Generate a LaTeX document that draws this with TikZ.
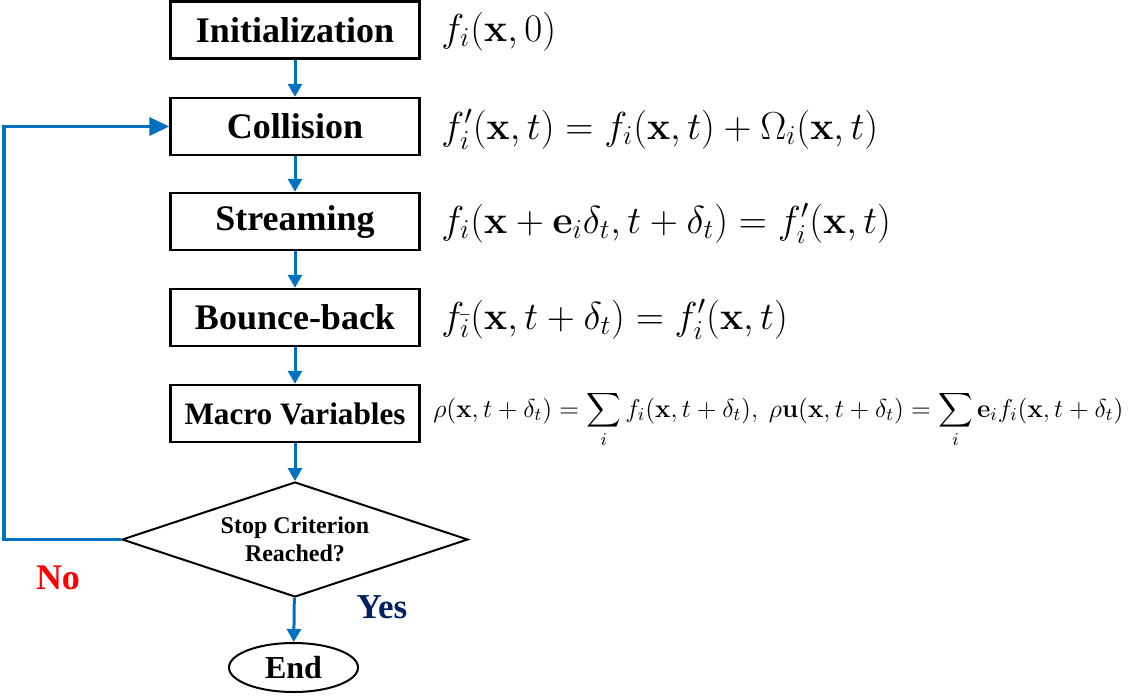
\RequirePackage{fix-cm}
\documentclass[tikz,border=0pt]{standalone}
\usepackage{amsmath}
\usepackage[no-math]{fontspec}
\setmainfont{Liberation Serif}
\usetikzlibrary{shapes.geometric,arrows.meta}
\definecolor{flowblue}{RGB}{0,112,192}
\definecolor{yesnavy}{RGB}{0,32,96}
\definecolor{nored}{RGB}{255,0,0}
\begin{document}
\begin{tikzpicture}[x=0.5pt,y=-0.5pt,
  stepbox/.style={draw,line width=1.2pt,minimum width=124.5pt,minimum height=28.5pt,inner sep=0pt,font=\bfseries\fontsize{18}{20}\selectfont},
  flow/.style={flowblue,line width=1.5pt,-{Triangle[length=6.5pt,width=7pt]}},
  loopflow/.style={flowblue,line width=1.75pt,-{Triangle[length=10pt,width=9pt]}},
  eq/.style={anchor=base west,inner sep=0pt,font=\fontsize{19.5}{22}\selectfont},
  eqsmall/.style={anchor=base west,inner sep=0pt,font=\fontsize{12.95}{15}\selectfont}]
\useasboundingbox (0,0) rectangle (1130,696);

\node[stepbox] (init) at (295,30) {Initialization};
\node[stepbox] (coll) at (295,126.5) {Collision};
\node[stepbox] (stream) at (295,221.5) {Streaming};
\node[stepbox] (bounce) at (295,317.5) {Bounce-back};
\node[stepbox,font=\bfseries\fontsize{15.6}{18}\selectfont] (macro) at (295,413.5) {Macro Variables};
\node[draw,shape=diamond,shape aspect=3,line width=1pt,minimum width=173pt,minimum height=57.5pt,inner sep=0pt,align=center,font=\bfseries\fontsize{12}{14}\selectfont] (dia) at (295,539.5) {Stop Criterion\\Reached?};
\node[draw,ellipse,line width=1pt,minimum width=64.5pt,minimum height=24.5pt,inner sep=0pt,font=\bfseries\fontsize{16}{18}\selectfont] (end) at (293.5,667.5) {End};

\node[eq] (e1) at (441,41) {$f_i(\mathbf{x},0)$};
\node[eq] (e2) at (441,139) {$f_i'(\mathbf{x},t)=f_i(\mathbf{x},t)+\Omega_i(\mathbf{x},t)$};
\node[eq] (e3) at (441,233) {$f_i(\mathbf{x}+\mathbf{e}_i\delta_t,t+\delta_t)=f_i'(\mathbf{x},t)$};
\node[eq] (e4) at (441,329) {$f_{\bar{i}}(\mathbf{x},t+\delta_t)=f_i'(\mathbf{x},t)$};
\node[eqsmall] (e5) at (433,417) {$\rho(\mathbf{x},t+\delta_t)=\displaystyle\sum_i f_i(\mathbf{x},t+\delta_t),\ \rho\mathbf{u}(\mathbf{x},t+\delta_t)=\sum_i\mathbf{e}_i f_i(\mathbf{x},t+\delta_t)$};

\node[text=nored,font=\bfseries\fontsize{18}{20}\selectfont] (no) at (58,578) {No};
\node[text=yesnavy,font=\bfseries\fontsize{17.5}{20}\selectfont] (yes) at (382,607) {Yes};

\draw[flow] (init) -- (coll);
\draw[flow] (coll) -- (stream);
\draw[flow] (stream) -- (bounce);
\draw[flow] (bounce) -- (macro);
\draw[flow] (macro) -- (dia);
\draw[flow] (dia) -- (end);
\coordinate (lp) at (4,0);
\draw[loopflow] (dia.west) -- (dia.west -| lp) |- (coll.west);
\end{tikzpicture}
\end{document}
